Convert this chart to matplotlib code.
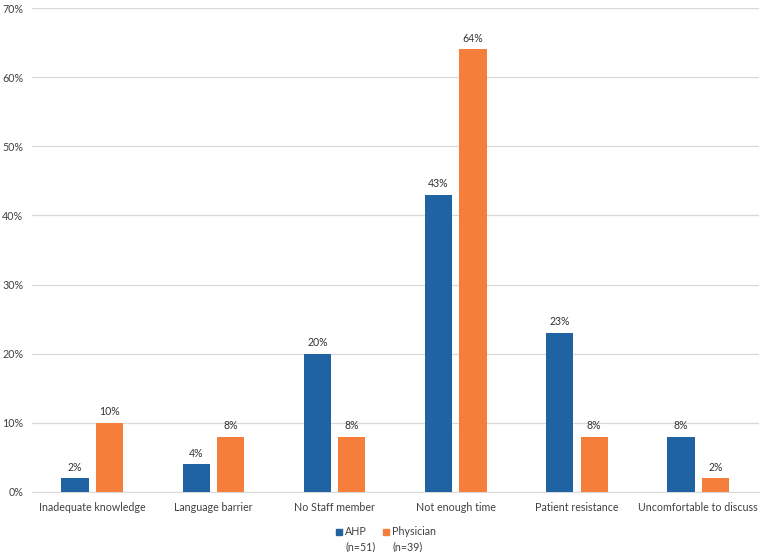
import numpy as np
import matplotlib
matplotlib.use("Agg")
import matplotlib.pyplot as plt
from matplotlib.patches import Rectangle
from matplotlib.ticker import PercentFormatter

plt.rcParams['font.family'] = ['Lato', 'DejaVu Sans']

categories = ["Inadequate knowledge", "Language barrier", "No Staff member",
              "Not enough time", "Patient resistance", "Uncomfortable to discuss"]
ahp = [2, 4, 20, 43, 23, 8]
physician = [10, 8, 8, 64, 8, 2]
series_labels = ["AHP\n(n=51)", "Physician\n(n=39)"]
colors = ["#1F63A2", "#F47E3A"]

W, H = 760, 552
fig = plt.figure(figsize=(W / 100, H / 100), dpi=100)
ax = fig.add_axes([0.0415, 0.1087, 0.957, 0.8768])

x = np.arange(len(categories))
w = 0.225
off = 0.142
b1 = ax.bar(x - off, ahp, w, color=colors[0], zorder=3)
b2 = ax.bar(x + off, physician, w, color=colors[1], zorder=3)

for bars in (b1, b2):
    for r in bars:
        ax.text(r.get_x() + r.get_width() / 2, r.get_height() + 0.8,
                f"{r.get_height():.0f}%", ha="center", va="bottom",
                fontsize=7.6, color="#333333")

ax.set_xlim(-0.5, len(categories) - 0.5)
ax.set_ylim(0, 70)
ax.set_yticks(range(0, 71, 10))
ax.yaxis.set_major_formatter(PercentFormatter(decimals=0))
ax.set_xticks(x)
ax.set_xticklabels(categories)
ax.tick_params(axis="both", length=0, labelsize=7.7, colors="#404040")
ax.tick_params(axis="x", pad=7)
ax.tick_params(axis="y", pad=6)
ax.grid(axis="y", color="#d9d9d9", linewidth=0.9, zorder=0)
for s in ["top", "right", "left"]:
    ax.spines[s].set_visible(False)
ax.spines["bottom"].set_color("#d9d9d9")

# legend: handle beside the first line of each two-line label
for lx, lab, c in zip([336, 383], series_labels, colors):
    fig.patches.append(Rectangle((lx / W, 1 - 535 / H), 6 / W, 6 / H,
                                 transform=fig.transFigure, color=c))
    fig.text((lx + 9) / W, 1 - 526 / H, lab, ha="left", va="top",
             fontsize=7.7, color="#404040", linespacing=1.45)

fig.savefig("out.png", dpi=100)
